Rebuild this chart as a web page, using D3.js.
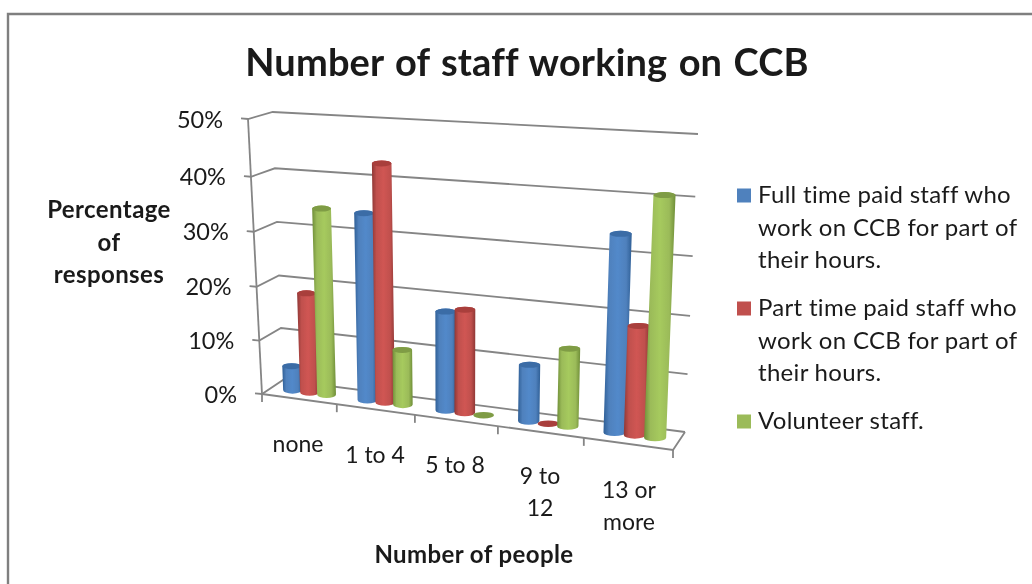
<!DOCTYPE html>
<html><head><meta charset="utf-8">
<script src="https://cdn.jsdelivr.net/npm/d3@7/dist/d3.min.js"></script>
<style>html,body{margin:0;padding:0;background:#fff}svg{display:block;filter:blur(.5px)}text{font-family:Lato,Carlito,sans-serif;fill:#1a1a1a;font-variant-ligatures:none}</style>
</head><body><svg id="c" width="1032" height="584"></svg>
<script>
const categories = ["none","1 to 4","5 to 8","9 to 12","13 or more"];
const categoryLabelLines = [["none"],["1 to 4"],["5 to 8"],["9 to","12"],["13 or","more"]];
const seriesNames = ["Full time paid staff who work on CCB for part of their hours.","Part time paid staff who work on CCB for part of their hours.","Volunteer staff."];
const fullTime = [4.5,34,17.8,10,34];
const partTime = [18.5,43,18.5,0,18.8];
const volunteer = [34.2,10,0,13.6,41];
const tickValues = [0,10,20,30,40,50];
const seriesColors = ["#4f81bd","#c0504d","#9bbb59"];
const seriesDark = ["#2f5f96","#8f3735","#6f8e38"];
const seriesLight = ["#5289ca","#d05653","#a6ca5e"];
const seriesCap = ["#3b6ca6","#a93f3c","#7f9c45"];

const svg = d3.select("#c");
const lerp=(a,b,t)=>a+(b-a)*t, mix=(p,q,t)=>[lerp(p[0],q[0],t),lerp(p[1],q[1],t)];
// perspective frame of the 3-D box
const F0=[262,394],F1=[248,119],B0=[283,380],B1=[272.7,112],R0=[685,432],R1=[698,134],FR0=[673,450];
const P00=[273.3,387.5],P01=[262.8,115.5],P10=[679.8,441],P11=[692.8,140];
const vScale=d3.scaleLinear().domain(tickValues).range([0,.194,.39,.59,.79,1]);
const uScale=d3.scaleLinear().domain([0,1,2,3,4,5]).range([0,.182,.372,.574,.783,1]);
const seriesBand=d3.scaleBand().domain(d3.range(3)).range([.145,.835]);
const project=(u,v)=>mix(mix(P00,P10,u),mix(P01,P11,u),v);
const line=d3.line();
const grey="#858585";

// frame
svg.append("path").attr("d","M8,584V14H1032").attr("fill","none").attr("stroke","#7f7f7f").attr("stroke-width",2.4);

// gridlines and side wall
const g=svg.append("g").attr("fill","none").attr("stroke",grey).attr("stroke-width",1.8);
tickValues.forEach(t=>{
  const v=vScale(t), f=mix(F0,F1,v), b=mix(B0,B1,v), r=mix(R0,R1,v);
  g.append("path").attr("d",line([[f[0]-7,f[1]-.7],f,b,r]));
});
g.append("path").attr("d",line([F0,F1]));
g.append("path").attr("d",line([F0,FR0,R0]));
d3.range(6).forEach(i=>{
  const p=mix(F0,FR0,uScale(i));
  g.append("path").attr("d",line([p,[p[0],p[1]+8]]));
});

// gradients
const defs=svg.append("defs");
seriesColors.forEach((c,i)=>{
  const lg=defs.append("linearGradient").attr("id","cyl"+i);
  [[0,seriesDark[i]],[.2,seriesColors[i]],[.5,seriesLight[i]],[.8,seriesColors[i]],[1,seriesDark[i]]]
    .forEach(s=>lg.append("stop").attr("offset",s[0]).attr("stop-color",s[1]));
});

// cylinders
categories.forEach((cat,ci)=>{
  const u0=uScale(ci),u1=uScale(ci+1);
  const rx=(u1-u0)*(P10[0]-P00[0])*seriesBand.bandwidth()/2+.9;
  [fullTime,partTime,volunteer].forEach((vals,s)=>{
    const val=vals[ci];
    const u=lerp(u0,u1,seriesBand(s)+seriesBand.bandwidth()/2);
    const b=project(u,0), t=project(u,vScale(val));
    const ryB=3.6, ryT=val>0?3:3.3;
    if(val>0){
      svg.append("path")
        .attr("d",`M${t[0]-rx},${t[1]}L${b[0]-rx},${b[1]}A${rx},${ryB} 0 0 0 ${b[0]+rx},${b[1]}L${t[0]+rx},${t[1]}A${rx},${ryT} 0 0 0 ${t[0]-rx},${t[1]}Z`)
        .attr("fill",`url(#cyl${s})`);
    }
    svg.append("ellipse").attr("cx",t[0]).attr("cy",t[1]).attr("rx",rx).attr("ry",ryT).attr("fill",seriesCap[s]);
  });
});

// value tick labels
tickValues.forEach(t=>{
  const f=mix(F0,F1,vScale(t));
  svg.append("text").attr("x",f[0]-25).attr("y",f[1]+8.5).attr("text-anchor","end").attr("font-size",23.5).text(t+"%");
});
// category labels
const catLabelPos=[298,375,455,540,629], catLabelBase=[452,463,473,484,498], lh=31.5;
categoryLabelLines.forEach((ls,i)=>ls.forEach((l,j)=>{
  svg.append("text").attr("x",catLabelPos[i]).attr("y",catLabelBase[i]+j*lh).attr("text-anchor","middle").attr("font-size",23).text(l);
}));
// titles
svg.append("text").attr("x",527).attr("y",75.5).attr("text-anchor","middle").attr("font-size",38).attr("font-weight",700).style("word-spacing","2px").style("letter-spacing",".15px").text("Number of staff working on CCB");
["Percentage","of","responses"].forEach((l,i)=>svg.append("text").attr("x",109).attr("y",218+i*32.5).attr("text-anchor","middle").attr("font-size",24).attr("font-weight",700).style("letter-spacing",".4px").text(l));
svg.append("text").attr("x",474).attr("y",563).attr("text-anchor","middle").attr("font-size",24).attr("font-weight",700).style("letter-spacing",".4px").text("Number of people");
// legend
const legendLines=[["Full time paid staff who","work on CCB for part of","their hours."],["Part time paid staff who","work on CCB for part of","their hours."],["Volunteer staff."]];
const legendBase=[203,316,429];
seriesNames.forEach((n,i)=>{
  svg.append("rect").attr("x",737).attr("y",legendBase[i]-14.5).attr("width",14).attr("height",14).attr("fill",seriesColors[i]);
  legendLines[i].forEach((l,j)=>svg.append("text").attr("x",758).attr("y",legendBase[i]+j*32.5).attr("font-size",24).style("letter-spacing",".3px").text(l));
});
</script></body></html>
